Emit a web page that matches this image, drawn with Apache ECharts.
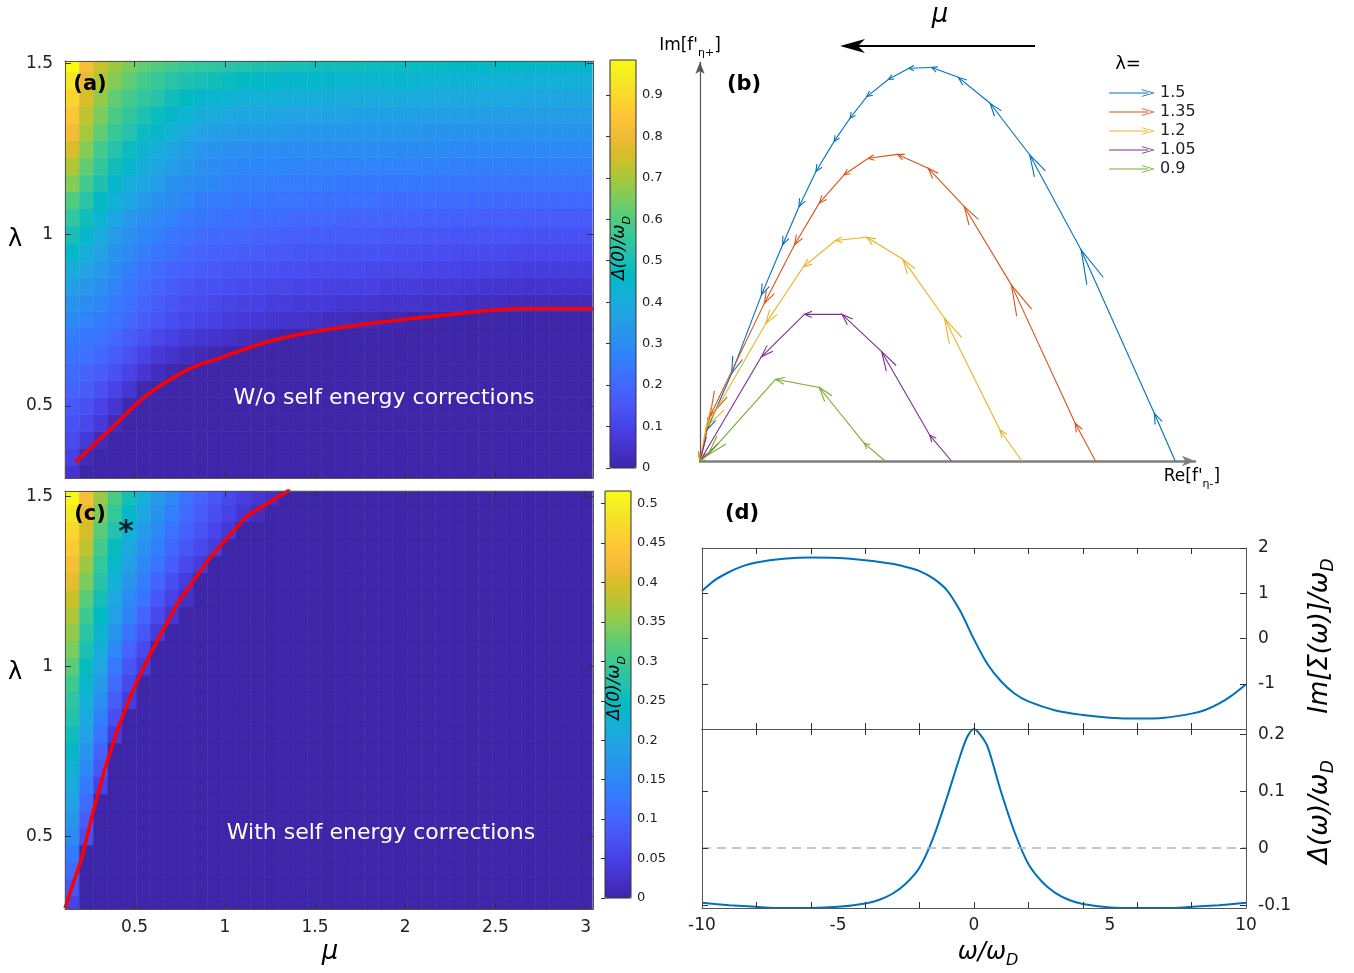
<!DOCTYPE html>
<html lang="en">
<head>
  <meta charset="UTF-8">
  <title>Gap maps and self energy</title>
  <script src="https://cdn.jsdelivr.net/npm/echarts@6/dist/echarts.min.js"></script>
  <style>
    html, body { margin: 0; padding: 0; background: #fff; }
    #main { width: 1354px; height: 973px; }
  </style>
</head>
<body>
<div id="main"></div>
<script>
  var FONT = 'DejaVu Sans';

  // heat map cell centres
  var mu = [0.154, 0.233, 0.312, 0.391, 0.470, 0.549, 0.628, 0.707, 0.786, 0.865,
    0.944, 1.023, 1.102, 1.181, 1.260, 1.339, 1.418, 1.497, 1.576, 1.655,
    1.734, 1.813, 1.892, 1.971, 2.050, 2.129, 2.208, 2.287, 2.366, 2.445,
    2.524, 2.603, 2.682, 2.761, 2.840, 2.919, 2.998];
  var lam = [0.30, 0.35, 0.40, 0.45, 0.50, 0.55, 0.60, 0.65, 0.70, 0.75, 0.80, 0.85, 0.90,
    0.95, 1.00, 1.05, 1.10, 1.15, 1.20, 1.25, 1.30, 1.35, 1.40, 1.45, 1.50];

  // (a) Δ(0)/ωD, one list per μ column; each list ends at λ = 1.5, rows below it are 0
  var gapA = [
    [.05,.09,.12,.14,.16,.19,.21,.23,.25,.29,.32,.36,.41,.46,.50,.55,.60,.66,.71,.76,.81,.85,.89,.93,.98],
    [.02,.07,.11,.14,.17,.19,.22,.24,.27,.30,.33,.37,.41,.45,.49,.53,.58,.62,.66,.70,.73,.76,.79,.82],
    [.02,.07,.10,.14,.17,.20,.23,.25,.28,.31,.34,.37,.40,.44,.47,.51,.55,.58,.62,.65,.68,.71,.74],
    [.02,.06,.10,.14,.17,.20,.23,.25,.27,.30,.32,.35,.38,.42,.45,.49,.52,.56,.59,.62,.66,.69],
    [.01,.06,.10,.14,.17,.20,.22,.24,.26,.29,.31,.34,.38,.41,.45,.48,.52,.55,.58,.62,.65],
    [.01,.06,.10,.14,.17,.19,.21,.23,.26,.28,.31,.34,.38,.41,.44,.48,.51,.55,.58,.62],
    [.03,.07,.11,.15,.17,.19,.21,.24,.26,.29,.32,.35,.38,.41,.45,.48,.52,.56,.60],
    [.01,.05,.09,.13,.15,.17,.19,.22,.24,.27,.30,.32,.35,.38,.42,.45,.49,.53,.58],
    [.03,.07,.11,.13,.15,.18,.20,.22,.25,.28,.30,.33,.35,.39,.43,.47,.51,.56],
    [.02,.06,.10,.12,.14,.17,.19,.21,.24,.26,.29,.31,.33,.37,.41,.45,.50,.55],
    [.01,.05,.09,.11,.14,.16,.18,.205,.23,.25,.28,.30,.32,.36,.40,.44,.49,.54],
    [.04,.08,.10,.13,.15,.18,.20,.22,.25,.27,.29,.31,.35,.39,.43,.48,.53],
    [.03,.07,.09,.12,.15,.17,.195,.22,.24,.26,.28,.305,.34,.38,.42,.47,.52],
    [.02,.065,.09,.12,.14,.17,.19,.21,.24,.26,.28,.30,.34,.38,.42,.46,.51],
    [.01,.06,.08,.11,.14,.16,.185,.21,.23,.26,.28,.30,.34,.38,.42,.46,.51],
    [.05,.08,.11,.13,.16,.18,.21,.23,.25,.28,.30,.34,.37,.41,.45,.50],
    [.045,.07,.10,.13,.15,.175,.20,.23,.25,.27,.30,.33,.37,.41,.45,.50],
    [.04,.07,.10,.12,.15,.17,.20,.22,.25,.27,.30,.33,.37,.41,.45,.49],
    [.03,.07,.09,.12,.15,.17,.20,.22,.25,.27,.30,.33,.37,.41,.45,.49],
    [.03,.06,.09,.12,.14,.17,.19,.22,.24,.27,.30,.33,.37,.40,.44,.49],
    [.02,.06,.09,.12,.14,.165,.19,.22,.24,.27,.30,.33,.36,.40,.44,.485],
    [.02,.06,.09,.11,.14,.165,.19,.22,.24,.27,.30,.33,.36,.40,.44,.485],
    [.01,.05,.08,.11,.14,.16,.19,.21,.24,.27,.30,.33,.36,.40,.44,.48],
    [.01,.05,.08,.11,.13,.16,.19,.21,.24,.27,.295,.33,.36,.40,.44,.48],
    [.05,.08,.11,.13,.16,.19,.21,.24,.27,.295,.33,.36,.40,.44,.48],
    [.04,.07,.10,.13,.155,.18,.21,.24,.265,.295,.32,.36,.39,.43,.475],
    [.04,.07,.10,.13,.155,.18,.21,.235,.265,.295,.32,.36,.39,.43,.475],
    [.04,.07,.10,.125,.15,.18,.21,.235,.265,.29,.32,.355,.39,.43,.47],
    [.03,.065,.095,.125,.15,.18,.205,.235,.26,.29,.32,.355,.39,.43,.47],
    [.03,.06,.09,.12,.15,.175,.205,.23,.26,.29,.32,.35,.385,.425,.47],
    [.03,.06,.09,.12,.145,.175,.205,.23,.26,.29,.32,.35,.385,.425,.465],
    [.02,.055,.085,.115,.145,.175,.20,.23,.26,.29,.32,.35,.385,.42,.465],
    [.02,.05,.08,.11,.14,.17,.20,.23,.26,.29,.32,.35,.38,.42,.46],
    [.02,.05,.08,.11,.14,.17,.20,.23,.26,.29,.32,.35,.38,.42,.46],
    [.02,.05,.08,.11,.14,.17,.20,.23,.26,.29,.32,.35,.38,.42,.46],
    [.02,.05,.08,.11,.14,.17,.20,.23,.26,.29,.32,.35,.38,.415,.455],
    [.02,.05,.08,.11,.14,.17,.20,.23,.26,.29,.32,.35,.38,.415,.455]
  ];

  // (c) Δ(0)/ωD with self energy corrections (columns past μ ≈ 1.3 are all 0)
  var gapC = [
    [.05,.08,.11,.13,.155,.17,.19,.21,.225,.24,.255,.27,.285,.30,.32,.34,.355,.37,.39,.41,.43,.45,.47,.49,.51],
    [.07,.09,.11,.13,.15,.17,.19,.205,.22,.235,.25,.265,.28,.30,.32,.34,.36,.38,.395,.41,.43],
    [.05,.08,.10,.12,.14,.16,.18,.20,.215,.23,.245,.26,.275,.29,.305,.32,.34,.36],
    [.04,.07,.09,.11,.13,.15,.17,.19,.20,.22,.235,.25,.27,.29,.31],
    [.04,.06,.08,.10,.12,.14,.155,.17,.19,.205,.22,.24,.26],
    [.04,.06,.08,.10,.12,.135,.15,.165,.18,.20,.22],
    [.04,.06,.08,.10,.12,.135,.15,.165,.18],
    [.03,.05,.07,.09,.105,.12,.135,.15],
    [.02,.04,.06,.08,.095,.11,.12],
    [.04,.06,.075,.09,.10],
    [.04,.055,.07,.08],
    [.035,.05,.06],
    [.03,.045],
    [.015,.03],
    [.02]
  ];

  // red phase boundaries
  var edgeAMu = [0.171, 0.369, 0.567, 0.790, 0.988, 1.234, 1.483, 1.804, 2.225, 2.646, 3.041];
  var edgeALam = [0.336, 0.434, 0.531, 0.605, 0.643, 0.687, 0.716, 0.741, 0.766, 0.784, 0.784];
  var edgeCMu = [0.114, 0.207, 0.271, 0.336, 0.410, 0.484, 0.585, 0.733, 0.918, 1.121, 1.361];
  var edgeCLam = [0.290, 0.437, 0.575, 0.702, 0.820, 0.923, 1.035, 1.182, 1.320, 1.442, 1.520];
  var starC = [0.452, 1.41];

  // (b) flow of (Re, Im) as μ grows, one pair of lists per λ
  var lamB = ['1.5', '1.35', '1.2', '1.05', '0.9'];
  var colB = ['#0072bd', '#d95319', '#edb120', '#7e2f8e', '#77ac30'];
  var re150 = [0.960, 0.918, 0.770, 0.666, 0.586, 0.522, 0.468, 0.422, 0.381, 0.337, 0.303, 0.271, 0.234, 0.200, 0.167, 0.124, 0.064, 0.014, 0];
  var im150 = [0, 0.121, 0.537, 0.779, 0.910, 0.976, 1.001, 0.999, 0.971, 0.927, 0.872, 0.813, 0.736, 0.647, 0.550, 0.422, 0.223, 0.079, 0];
  var re135 = [0.799, 0.758, 0.629, 0.534, 0.461, 0.399, 0.340, 0.291, 0.241, 0.191, 0.130, 0.020, 0];
  var im135 = [0, 0.096, 0.448, 0.647, 0.745, 0.780, 0.770, 0.728, 0.656, 0.550, 0.401, 0.113, 0];
  var re120 = [0.650, 0.606, 0.494, 0.410, 0.337, 0.274, 0.209, 0.133, 0.012, 0];
  var im120 = [0, 0.079, 0.363, 0.513, 0.569, 0.561, 0.494, 0.350, 0.085, 0];
  var re105 = [0.508, 0.464, 0.367, 0.287, 0.211, 0.124, 0];
  var im105 = [0, 0.066, 0.278, 0.373, 0.373, 0.265, 0];
  var re090 = [0.374, 0.332, 0.241, 0.153, 0.016, 0];
  var im090 = [0, 0.045, 0.187, 0.208, 0.015, 0];

  // (d)
  var omegaTop = [-10, -9.5, -9, -8.5, -8, -7, -6, -5, -4, -3, -2.5, -2, -1.5, -1, -0.5, 0,
    0.5, 1, 1.5, 2, 3, 4, 5, 6, 7, 8, 8.5, 9, 9.5, 10];
  var imSigma = [1.05, 1.30, 1.47, 1.60, 1.68, 1.76, 1.79, 1.78, 1.73, 1.65, 1.58, 1.49, 1.33, 1.07, 0.60, -0.02,
    -0.57, -0.95, -1.22, -1.39, -1.59, -1.69, -1.75, -1.77, -1.75, -1.66, -1.58, -1.44, -1.25, -1.01];
  var omegaBot = [-10, -9, -8, -7, -6, -5, -4, -3.5, -3, -2.5, -2, -1.5, -1, -0.5, -0.25, 0,
    0.25, 0.5, 1, 1.5, 2, 2.5, 3, 3.5, 4, 5, 6, 7, 8, 9, 10];
  var gapOmega = [-0.096, -0.100, -0.103, -0.105, -0.105, -0.103, -0.097, -0.091, -0.080, -0.062, -0.034, 0.018,
    0.088, 0.163, 0.195, 0.209, 0.198, 0.178, 0.098, 0.027, -0.028, -0.059, -0.079, -0.091, -0.098,
    -0.104, -0.105, -0.105, -0.103, -0.100, -0.096];

  var parula = ['#3e26a8', '#4432cb', '#4741e5', '#4852f4', '#4563fd', '#3875fe', '#2e87f7', '#2796eb',
    '#20a5e3', '#12b1d6', '#02bac3', '#24c1ae', '#37c897', '#57cc7a', '#81cc59', '#abc739',
    '#d1bf27', '#f0ba36', '#fec338', '#fad62d', '#f5e924', '#f9fb15'];

  function cellData(cols) {
    var out = [];
    mu.forEach(function (m, j) {
      var col = cols[j] || [];
      var pad = lam.length - col.length;
      lam.forEach(function (l, i) {
        out.push([m, l, i < pad ? 0 : col[i - pad]]);
      });
    });
    return out;
  }

  function renderCell(params, api) {
    var p0 = api.coord([api.value(0) - 0.0397, api.value(1) + 0.0252]);
    var p1 = api.coord([api.value(0) + 0.0397, api.value(1) - 0.0252]);
    var cs = params.coordSys;
    var x0 = Math.max(p0[0], cs.x), x1 = Math.min(p1[0], cs.x + cs.width);
    var y0 = Math.max(p0[1], cs.y), y1 = Math.min(p1[1], cs.y + cs.height);
    if (x1 <= x0 || y1 <= y0) return null;
    var c = api.visual('color');
    return {
      type: 'rect',
      shape: { x: x0, y: y0, width: x1 - x0, height: y1 - y0 },
      style: { fill: c, stroke: c, lineWidth: 0.5 }
    };
  }

  function segments(re, im) {
    var out = [];
    for (var i = 0; i < re.length - 1; i++) {
      out.push([re[i], im[i], re[i + 1], im[i + 1]]);
    }
    return out;
  }

  // quiver-like: head at the end of each step, sized by the step length
  function renderArrow(params, api) {
    var a = api.coord([api.value(0), api.value(1)]);
    var b = api.coord([api.value(2), api.value(3)]);
    var color = api.visual('color');
    var dx = b[0] - a[0], dy = b[1] - a[1];
    var len = Math.sqrt(dx * dx + dy * dy) || 1;
    var ux = dx / len, uy = dy / len;
    var L = Math.max(5, Math.min(34, 0.2 * len)), W = 0.22 * L + 1.5;
    return {
      type: 'group',
      children: [{
        type: 'line',
        shape: { x1: a[0], y1: a[1], x2: b[0], y2: b[1] },
        style: { stroke: color, lineWidth: 1.1 }
      }, {
        type: 'polyline',
        shape: { points: [
          [b[0] - L * ux - W * uy, b[1] - L * uy + W * ux],
          [b[0], b[1]],
          [b[0] - L * ux + W * uy, b[1] - L * uy - W * ux]
        ] },
        style: { stroke: color, fill: null, lineWidth: 1.1 }
      }]
    };
  }

  function frameAxis(gridIndex, position, min, max, ticks, extra) {
    var ax = {
      type: 'value', gridIndex: gridIndex, position: position, min: min, max: max, z: 10,
      axisLine: { show: true, onZero: false, lineStyle: { color: '#555', width: 1 } },
      axisTick: { show: true, inside: true, length: 6, customValues: ticks, lineStyle: { color: '#333' } },
      axisLabel: { show: false },
      splitLine: { show: false }
    };
    return Object.assign(ax, extra || {});
  }

  function labels(values, size, margin) {
    return { show: true, customValues: values, fontSize: size, color: '#222', fontFamily: FONT, margin: margin };
  }

  function text(str, x, y, style, rot) {
    return {
      type: 'text', x: x, y: y, rotation: rot || 0, z: 100,
      style: Object.assign({
        text: str, fill: '#000', fontSize: 18, fontFamily: FONT,
        align: 'center', verticalAlign: 'middle'
      }, style || {})
    };
  }

  // main text with a lowered, smaller tail (subscript)
  function subText(main, sub, x, y, size, italic, rot, tail) {
    var st = italic ? 'italic' : 'normal';
    var small = Math.round(size * 0.65);
    var str = '{a|' + main + '}{b|' + sub + '}' + (tail ? '{a|' + tail + '}' : '');
    return text(str, x, y, {
      rich: {
        a: { fontSize: size, fontStyle: st, fontFamily: FONT, lineHeight: size, verticalAlign: 'top' },
        b: { fontSize: small, fontStyle: st, fontFamily: FONT, lineHeight: size + 4, verticalAlign: 'bottom' }
      }
    }, rot);
  }

  var muTicks = [0.5, 1, 1.5, 2, 2.5, 3];
  var lamTicks = [0.5, 1, 1.5];
  var wTicks = [-8, -6, -4, -2, 0, 2, 4, 6, 8];

  var grids = [
    { left: 65, top: 61, width: 528, height: 417 },   // (a)
    { left: 610, top: 60, width: 26, height: 408 },   // (a) colour bar
    { left: 65, top: 491, width: 528, height: 418 },  // (c)
    { left: 605, top: 491, width: 26, height: 407 },  // (c) colour bar
    { left: 700, top: 62, width: 495, height: 399 },  // (b)
    { left: 702, top: 548, width: 544, height: 181 }, // (d) top
    { left: 702, top: 729, width: 544, height: 179 }  // (d) bottom
  ].map(function (g) { g.outerBoundsMode = 'none'; g.containLabel = false; return g; });

  var xAxes = [
    frameAxis(0, 'bottom', 0.114, 3.041, muTicks),
    frameAxis(0, 'top', 0.114, 3.041, muTicks),
    { type: 'value', gridIndex: 1, show: false, min: 0, max: 1 },
    frameAxis(2, 'bottom', 0.114, 3.041, muTicks, { axisLabel: labels(muTicks, 17, 10) }),
    frameAxis(2, 'top', 0.114, 3.041, muTicks),
    { type: 'value', gridIndex: 3, show: false, min: 0, max: 1 },
    {
      type: 'value', gridIndex: 4, min: 0, max: 1,
      axisLine: { show: true, onZero: false, symbol: ['none', 'arrow'], symbolSize: [8, 13],
        lineStyle: { color: '#7f7f7f', width: 2.5 } },
      axisTick: { show: false }, axisLabel: { show: false }, splitLine: { show: false }
    },
    frameAxis(5, 'bottom', -10, 10, wTicks),
    frameAxis(5, 'top', -10, 10, wTicks),
    frameAxis(6, 'bottom', -10, 10, wTicks, { axisLabel: labels([-10, -5, 0, 5, 10], 17, 9) }),
    frameAxis(6, 'top', -10, 10, wTicks)
  ];

  var yAxes = [
    frameAxis(0, 'left', 0.290, 1.507, lamTicks, { axisLabel: labels(lamTicks, 17, 12) }),
    frameAxis(0, 'right', 0.290, 1.507, lamTicks),
    {
      type: 'value', gridIndex: 1, position: 'right', min: 0, max: 0.984, z: 10,
      axisLine: { show: false },
      axisTick: { show: true, inside: true, length: 4, customValues: [0, 0.1, 0.2, 0.3, 0.4, 0.5, 0.6, 0.7, 0.8, 0.9], lineStyle: { color: '#333' } },
      axisLabel: labels([0, 0.1, 0.2, 0.3, 0.4, 0.5, 0.6, 0.7, 0.8, 0.9], 13, 6),
      splitLine: { show: false }
    },
    frameAxis(2, 'left', 0.287, 1.516, lamTicks, { axisLabel: labels(lamTicks, 17, 12) }),
    frameAxis(2, 'right', 0.287, 1.516, lamTicks),
    {
      type: 'value', gridIndex: 3, position: 'right', min: 0, max: 0.516, z: 10,
      axisLine: { show: false },
      axisTick: { show: true, inside: true, length: 4, customValues: [0, 0.05, 0.1, 0.15, 0.2, 0.25, 0.3, 0.35, 0.4, 0.45, 0.5], lineStyle: { color: '#333' } },
      axisLabel: labels([0, 0.05, 0.1, 0.15, 0.2, 0.25, 0.3, 0.35, 0.4, 0.45, 0.5], 13, 6),
      splitLine: { show: false }
    },
    {
      type: 'value', gridIndex: 4, min: 0, max: 1.015,
      axisLine: { show: true, onZero: false, symbol: ['none', 'arrow'], symbolSize: [7, 12],
        lineStyle: { color: '#555', width: 1.2 } },
      axisTick: { show: false }, axisLabel: { show: false }, splitLine: { show: false }
    },
    frameAxis(5, 'right', -2, 2, [-1, 0, 1, 2], { axisLabel: labels([-1, 0, 1, 2], 17, 12) }),
    frameAxis(5, 'left', -2, 2, [-1, 0, 1]),
    frameAxis(6, 'right', -0.105, 0.209, [-0.1, 0, 0.1, 0.2], { axisLabel: labels([-0.1, 0, 0.1, 0.2], 17, 12) }),
    frameAxis(6, 'left', -0.105, 0.209, [-0.1, 0, 0.1])
  ];

  var series = [
    { type: 'custom', name: 'gapA', xAxisIndex: 0, yAxisIndex: 0, renderItem: renderCell,
      data: cellData(gapA), encode: { x: 0, y: 1 }, silent: true, z: 2 },
    { type: 'line', xAxisIndex: 0, yAxisIndex: 0, showSymbol: false, smooth: 0.35, silent: true, z: 5,
      lineStyle: { color: '#ff0000', width: 3.5 },
      data: edgeAMu.map(function (m, i) { return [m, edgeALam[i]]; }) },
    { type: 'custom', name: 'gapC', xAxisIndex: 3, yAxisIndex: 3, renderItem: renderCell,
      data: cellData(gapC), encode: { x: 0, y: 1 }, silent: true, z: 2 },
    { type: 'line', xAxisIndex: 3, yAxisIndex: 3, showSymbol: false, silent: true, z: 5,
      lineStyle: { color: '#ff0000', width: 3.5 },
      data: edgeCMu.map(function (m, i) { return [m, edgeCLam[i]]; }) },
    { type: 'scatter', xAxisIndex: 3, yAxisIndex: 3, symbolSize: 2, silent: true, z: 6,
      itemStyle: { color: 'rgba(0,0,0,0)' },
      label: { show: true, position: 'inside', formatter: '*', fontSize: 30, fontWeight: 'bold',
        color: '#000', fontFamily: FONT, offset: [0, 6] },
      data: [starC] }
  ];

  var reList = [re150, re135, re120, re105, re090];
  var imList = [im150, im135, im120, im105, im090];
  lamB.forEach(function (name, k) {
    series.push({
      type: 'custom', name: name, xAxisIndex: 6, yAxisIndex: 6, renderItem: renderArrow,
      itemStyle: { color: colB[k] }, silent: true, z: 3,
      encode: { x: [0, 2], y: [1, 3] },
      data: segments(reList[k], imList[k])
    });
  });

  series.push({
    type: 'line', xAxisIndex: 7, yAxisIndex: 7, showSymbol: false, smooth: 0.3, silent: true,
    lineStyle: { color: '#0072bd', width: 2 },
    data: omegaTop.map(function (w, i) { return [w, imSigma[i]]; })
  });
  series.push({
    type: 'line', xAxisIndex: 9, yAxisIndex: 9, showSymbol: false, smooth: 0.3, silent: true,
    lineStyle: { color: '#0072bd', width: 2 },
    data: omegaBot.map(function (w, i) { return [w, gapOmega[i]]; }),
    markLine: {
      silent: true, symbol: 'none', label: { show: false },
      lineStyle: { color: '#b4b4b4', type: [9, 6], width: 1.5 },
      data: [{ yAxis: 0 }]
    }
  });

  var chart = echarts.init(document.getElementById('main'));
  chart.setOption({
    animation: false,
    backgroundColor: '#fff',
    textStyle: { fontFamily: FONT },
    grid: grids,
    xAxis: xAxes,
    yAxis: yAxes,
    visualMap: [
      { type: 'continuous', seriesIndex: 0, dimension: 2, min: 0, max: 0.984, calculable: false,
        hoverLink: false, inRange: { color: parula }, left: 610, top: 60, padding: 0,
        itemWidth: 26, itemHeight: 408 },
      { type: 'continuous', seriesIndex: 2, dimension: 2, min: 0, max: 0.516, calculable: false,
        hoverLink: false, inRange: { color: parula }, left: 605, top: 491, padding: 0,
        itemWidth: 26, itemHeight: 407 }
    ],
    legend: {
      left: 1104, top: 80, orient: 'vertical', itemWidth: 46, itemHeight: 10, itemGap: 3,
      selectedMode: false, data: lamB,
      icon: 'path://M0,4.4L39,4.4L39,5.6L0,5.6Z M33,1.2L46,5L33,8.8L32.6,8.1L43.4,5L32.6,1.9Z',
      textStyle: { fontSize: 16, color: '#222', fontFamily: FONT }
    },
    series: series,
    graphic: [
      { type: 'rect', z: 100, shape: { x: 610, y: 60, width: 26, height: 408 }, style: { fill: null, stroke: '#333', lineWidth: 1 } },
      { type: 'rect', z: 100, shape: { x: 605, y: 491, width: 26, height: 407 }, style: { fill: null, stroke: '#333', lineWidth: 1 } },
      text('(a)', 90, 85, { fontWeight: 'bold', fontSize: 21 }),
      text('(b)', 744, 85, { fontWeight: 'bold', fontSize: 21 }),
      text('(c)', 90, 515, { fontWeight: 'bold', fontSize: 21 }),
      text('(d)', 742, 514, { fontWeight: 'bold', fontSize: 21 }),
      text('λ', 15, 240, { fontSize: 24 }),
      text('λ', 15, 673, { fontSize: 24 }),
      text('μ', 330, 952, { fontSize: 26, fontStyle: 'italic' }),
      text('W/o self energy corrections', 384, 398, { fontSize: 22, fill: '#fff' }),
      text('With self energy corrections', 381, 833, { fontSize: 22, fill: '#fff' }),
      subText('Δ(0)/ω', 'D', 622, 248, 17, true, Math.PI / 2),
      subText('Δ(0)/ω', 'D', 617, 688, 17, true, Math.PI / 2),
      { type: 'line', z: 100, shape: { x1: 1035, y1: 46, x2: 852, y2: 46 }, style: { stroke: '#000', lineWidth: 2 } },
      { type: 'polygon', z: 100, shape: { points: [[840, 46], [865, 39], [858, 46], [865, 53]] }, style: { fill: '#000' } },
      text('μ', 940, 15, { fontSize: 26, fontStyle: 'italic' }),
      text('λ=', 1128, 64, { fontSize: 18 }),
      subText('Im[f\'', 'η+', 690, 48, 17, false, 0, ']'),
      subText('Re[f\'', 'η-', 1192, 479, 17, false, 0, ']'),
      subText('ω/ω', 'D', 988, 955, 24, true),
      subText('Im[Σ(ω)]/ω', 'D', 1322, 636, 26, true, Math.PI / 2),
      subText('Δ(ω)/ω', 'D', 1322, 812, 26, true, Math.PI / 2)
    ]
  });
</script>
</body>
</html>
